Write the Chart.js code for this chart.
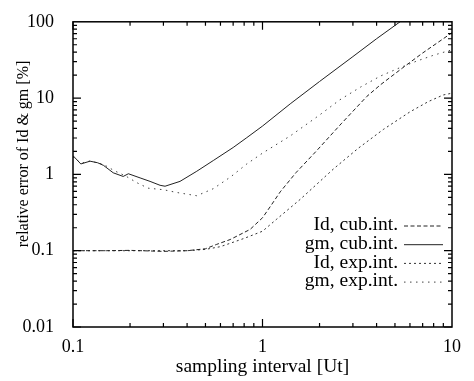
<!DOCTYPE html>
<html>
<head>
<meta charset="utf-8">
<script src="https://cdn.jsdelivr.net/npm/chart.js@4.4.1/dist/chart.umd.min.js"></script>
<style>
  html, body { margin: 0; padding: 0; background: #fff; }
  canvas { display: block; }
</style>
</head>
<body>
<canvas id="chart" width="474" height="381"></canvas>
<script>
// values (log-log plot)
const idCubX = [0.1, 0.15, 0.2, 0.3, 0.4, 0.5, 0.573, 0.675, 0.86, 1.0, 1.1, 1.24, 1.5, 1.93, 2.6, 3.55, 4.2, 5.5, 7.0, 10];
const idCubY = [0.1, 0.1, 0.101, 0.098, 0.1, 0.106, 0.121, 0.14, 0.19, 0.27, 0.38, 0.59, 1.05, 2.04, 4.6, 10.5, 15, 25, 39, 72];

const gmCubX = [0.1, 0.11, 0.123, 0.135, 0.145, 0.163, 0.184, 0.196, 0.226, 0.255, 0.288, 0.306, 0.367, 0.45, 0.55, 0.7, 0.826, 1.0, 1.4, 2.0, 3.0, 4.0, 5.32];
const gmCubY = [1.76, 1.37, 1.49, 1.42, 1.31, 1.05, 0.94, 1.02, 0.9, 0.81, 0.72, 0.7, 0.81, 1.1, 1.52, 2.25, 3.03, 4.3, 8.4, 16.5, 35, 60, 100];

const idExpX = [0.1, 0.15, 0.2, 0.3, 0.4, 0.5, 0.6, 0.687, 0.8, 1.0, 1.19, 1.58, 2.37, 3.2, 4.34, 6.0, 7.5, 9.0, 10];
const idExpY = [0.1, 0.1, 0.1, 0.1, 0.1, 0.104, 0.113, 0.127, 0.145, 0.18, 0.26, 0.47, 1.18, 2.2, 3.88, 6.6, 9.0, 11, 11.6];

const gmExpX = [0.1, 0.11, 0.123, 0.145, 0.165, 0.19, 0.217, 0.249, 0.3, 0.352, 0.45, 0.55, 0.68, 0.826, 1.0, 1.4, 2.0, 2.56, 3.3, 4.2, 5.3, 6.5, 8.0, 10];
const gmExpY = [1.7, 1.4, 1.5, 1.35, 1.12, 0.95, 0.78, 0.66, 0.63, 0.58, 0.525, 0.65, 0.93, 1.37, 1.9, 3.19, 6.0, 9.5, 14, 19.5, 25, 30.5, 36.5, 43];

const seriesNames = ['Id, cub.int.', 'gm, cub.int.', 'Id, exp.int.', 'gm, exp.int.'];
const xTicks = [0.1, 1, 10];
const yTicks = [0.01, 0.1, 1, 10, 100];
const xTitle = 'sampling interval [Ut]';
const yTitle = 'relative error of Id & gm [%]';

const serif = "'Liberation Serif', 'DejaVu Serif', serif";

function pts(xs, ys) {
    return xs.map((x, i) => ({ x: x, y: ys[i] }));
}

function makeSet(label, xs, ys, dash, color) {
    return {
        label: label,
        data: pts(xs, ys),
        borderColor: color,
        borderWidth: 1,
        borderDash: dash,
        pointRadius: 0,
        fill: false,
        tension: 0
    };
}

// gnuplot style frame, inward ticks, titles and key
const framePlugin = {
    id: 'frame',
    afterDraw(chart) {
        const ctx = chart.ctx;
        const a = chart.chartArea;
        const xs = chart.scales.x, ys = chart.scales.y;
        ctx.save();
        ctx.strokeStyle = '#000';
        ctx.lineWidth = 1.5;
        ctx.setLineDash([]);
        ctx.strokeRect(a.left, a.top, a.right - a.left, a.bottom - a.top);

        ctx.lineWidth = 1.2;
        ctx.beginPath();
        for (let d = -1; d < 1; d++) {
            for (let m = 1; m < 10; m++) {
                const v = m * Math.pow(10, d);
                const px = xs.getPixelForValue(v);
                const len = m === 1 ? 8 : 4;
                ctx.moveTo(px, a.bottom); ctx.lineTo(px, a.bottom - len);
                ctx.moveTo(px, a.top); ctx.lineTo(px, a.top + len);
            }
        }
        for (let d = -2; d < 2; d++) {
            for (let m = 1; m < 10; m++) {
                const v = m * Math.pow(10, d);
                const py = ys.getPixelForValue(v);
                const len = m === 1 ? 8 : 4;
                ctx.moveTo(a.left, py); ctx.lineTo(a.left + len, py);
                ctx.moveTo(a.right, py); ctx.lineTo(a.right - len, py);
            }
        }
        ctx.stroke();

        // axis titles
        ctx.fillStyle = '#000';
        ctx.textAlign = 'center';
        ctx.textBaseline = 'middle';
        ctx.font = '19.5px ' + serif;
        ctx.fillText(xTitle, (a.left + a.right) / 2, 367);
        ctx.save();
        ctx.translate(24, 154);
        ctx.rotate(-Math.PI / 2);
        ctx.font = '16px ' + serif;
        ctx.fillText(yTitle, 0, 0);
        ctx.restore();

        // key
        ctx.font = '19.5px ' + serif;
        ctx.textAlign = 'right';
        chart.data.datasets.forEach((ds, i) => {
            const y = 225 + i * 18.7;
            ctx.fillStyle = '#000';
            ctx.fillText(ds.label, 398, y);
            ctx.strokeStyle = ds.borderColor;
            ctx.lineWidth = ds.borderWidth;
            ctx.setLineDash(ds.borderDash);
            ctx.beginPath();
            ctx.moveTo(404, y + 1);
            ctx.lineTo(443, y + 1);
            ctx.stroke();
        });
        ctx.restore();
    }
};

new Chart(document.getElementById('chart'), {
    type: 'line',
    data: {
        datasets: [
            makeSet(seriesNames[0], idCubX, idCubY, [4, 2.5], '#222'),
            makeSet(seriesNames[1], gmCubX, gmCubY, [], '#222'),
            makeSet(seriesNames[2], idExpX, idExpY, [2, 3], '#333'),
            makeSet(seriesNames[3], gmExpX, gmExpY, [1.5, 4.5], '#444')
        ]
    },
    options: {
        responsive: false,
        animation: false,
        layout: { padding: { left: 0, right: 22, top: 17, bottom: 0 } },
        plugins: {
            legend: { display: false },
            tooltip: { enabled: false }
        },
        scales: {
            x: {
                type: 'logarithmic',
                min: 0.1,
                max: 10,
                afterBuildTicks: s => { s.ticks = xTicks.map(v => ({ value: v })); },
                afterFit: s => { s.height = 54; },
                grid: { display: false },
                border: { display: false },
                ticks: {
                    color: '#000',
                    font: { family: serif, size: 18 },
                    padding: 1,
                    maxRotation: 0,
                    callback: v => String(v)
                }
            },
            y: {
                type: 'logarithmic',
                min: 0.01,
                max: 100,
                afterBuildTicks: s => { s.ticks = yTicks.map(v => ({ value: v })); },
                afterFit: s => { s.width = 73; },
                grid: { display: false },
                border: { display: false },
                ticks: {
                    color: '#000',
                    font: { family: serif, size: 18 },
                    padding: 11,
                    callback: v => String(v)
                }
            }
        }
    },
    plugins: [framePlugin]
});
</script>
</body>
</html>
